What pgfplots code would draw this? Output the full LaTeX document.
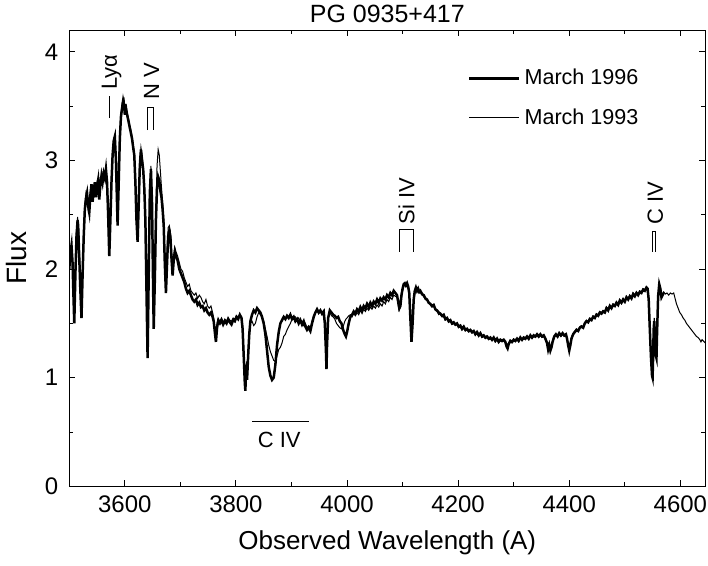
\documentclass[border=0pt]{standalone}
\usepackage{pgfplots}
\pgfplotsset{compat=1.18}
\usepackage{fontspec}
\setmainfont{Liberation Sans}
\begin{document}
\begin{tikzpicture}
\begin{axis}[
  width=318.5pt, height=228.5pt, scale only axis,
  xmin=3500, xmax=4645, ymin=0, ymax=4.2,
  xtick={3600,3800,...,4600}, minor x tick num=1,
  ytick={0,1,2,3,4}, minor y tick num=1,
  scaled x ticks=false,
  tick align=inside, major tick length=3pt, minor tick length=2pt,
  tick style={black, line width=0.5pt},
  axis line style={line width=0.5pt},
  xlabel={Observed Wavelength (A)}, ylabel={Flux},
  title={PG 0935+417},
  /pgf/number format/assume math mode=true,
  /pgf/number format/1000 sep={},
  tick label style={font=\fontsize{12}{14}\selectfont},
  xticklabel style={inner xsep=0.5pt, yshift=-1pt},
  yticklabel style={xshift=-2pt},
  label style={font=\fontsize{13}{15}\selectfont},
  ylabel style={font=\fontsize{14}{16}\selectfont, yshift=2pt},
  xlabel style={yshift=-2.5pt},
  title style={font=\fontsize{12.5}{14}\selectfont, inner ysep=2.5pt, yshift=-5pt},
  legend style={draw=none, fill=none, at={(rel axis cs:0.617,0.933)}, anchor=north west,
    font=\fontsize{10.8}{13}\selectfont, row sep=6.5pt},
  legend cell align=left,
  legend image code/.code={\draw[#1] (0pt,0pt) -- (25pt,0pt);},
]
% March 1996
\addplot[black, line width=1.25pt] coordinates {
(3500,2.00) (3502,2.15) (3504,2.22) (3506,2.05) (3507,1.85) (3509,1.50) (3511,1.95) (3513,2.30)
(3515,2.45) (3516,2.40) (3518,2.10) (3520,1.80) (3522,1.55) (3524,1.95) (3526,2.30) (3528,2.55)
(3530,2.65) (3532,2.70) (3534,2.58) (3536,2.52) (3538,2.68) (3540,2.78) (3542,2.62) (3544,2.72)
(3546,2.80) (3548,2.66) (3550,2.76) (3552,2.82) (3554,2.64) (3556,2.78) (3558,2.86) (3560,2.80)
(3562,2.88) (3564,2.84) (3566,2.92) (3568,2.80) (3570,2.50) (3572,2.12) (3574,2.45) (3576,2.80)
(3578,3.05) (3580,3.18) (3582,3.22) (3584,3.00) (3586,2.60) (3587,2.40) (3589,2.80) (3591,3.20)
(3593,3.40) (3595,3.48) (3597,3.55) (3599,3.50) (3600,3.42) (3601,3.52) (3603,3.45) (3605,3.40)
(3607,3.35) (3609,3.30) (3611,3.25) (3613,3.20) (3615,3.12) (3617,3.05) (3619,2.80) (3621,2.45)
(3623,2.25) (3625,2.60) (3627,2.95) (3629,3.10) (3631,3.00) (3633,2.92) (3635,2.75) (3637,2.45)
(3639,1.80) (3641,1.18) (3643,1.95) (3645,2.70) (3647,2.92) (3649,2.60) (3651,1.80) (3652,1.45)
(3654,1.90) (3656,2.45) (3658,2.75) (3660,2.85) (3662,2.82) (3664,2.72) (3666,2.66) (3668,2.55)
(3670,2.40) (3672,2.05) (3674,1.78) (3676,2.05) (3678,2.30) (3680,2.35) (3682,2.30) (3684,2.10)
(3686,1.94) (3688,2.08) (3690,2.16) (3692,2.12) (3695,2.08) (3698,2.00) (3701,1.96) (3704,1.92)
(3707,1.88) (3710,1.82) (3713,1.78) (3716,1.80) (3719,1.76) (3722,1.72) (3725,1.70) (3728,1.72)
(3731,1.67) (3734,1.69) (3737,1.65) (3740,1.66) (3743,1.62) (3746,1.64) (3749,1.60) (3752,1.58)
(3755,1.60) (3758,1.56) (3760,1.52) (3762,1.42) (3764,1.33) (3766,1.46) (3768,1.52) (3771,1.50)
(3774,1.53) (3777,1.49) (3780,1.52) (3783,1.50) (3786,1.54) (3789,1.51) (3792,1.49) (3795,1.53)
(3798,1.52) (3801,1.56) (3804,1.54) (3807,1.58) (3810,1.55) (3812,1.45) (3814,1.20) (3816,0.95)
(3817,0.88) (3818,1.05) (3819,1.12) (3820,0.98) (3822,1.20) (3824,1.40) (3826,1.52) (3829,1.58)
(3832,1.62) (3835,1.60) (3838,1.64) (3841,1.62) (3844,1.60) (3847,1.56) (3850,1.50) (3853,1.40)
(3856,1.25) (3859,1.10) (3862,1.02) (3865,0.98) (3868,1.00) (3871,1.12) (3874,1.30) (3877,1.42)
(3880,1.50) (3883,1.53) (3886,1.56) (3889,1.54) (3892,1.57) (3895,1.55) (3898,1.58) (3901,1.54)
(3904,1.56) (3907,1.52) (3910,1.54) (3913,1.50) (3916,1.53) (3919,1.49) (3922,1.52) (3925,1.47)
(3928,1.44) (3931,1.46) (3934,1.43) (3937,1.50) (3940,1.56) (3943,1.60) (3946,1.63) (3949,1.60)
(3952,1.62) (3955,1.59) (3958,1.61) (3960,1.50) (3962,1.25) (3963,1.08) (3964,1.30) (3966,1.55)
(3969,1.62) (3972,1.60) (3975,1.58) (3978,1.57) (3981,1.55) (3984,1.56) (3987,1.52) (3990,1.50)
(3993,1.44) (3996,1.40) (3998,1.38) (4000,1.42) (4003,1.50) (4006,1.56) (4009,1.58) (4012,1.61)
(4015,1.59) (4018,1.63) (4021,1.61) (4024,1.65) (4027,1.62) (4030,1.66) (4033,1.64) (4036,1.68)
(4039,1.65) (4042,1.69) (4045,1.66) (4048,1.70) (4051,1.68) (4054,1.72) (4057,1.69) (4060,1.73)
(4063,1.71) (4066,1.74) (4069,1.72) (4072,1.76) (4075,1.74) (4078,1.78) (4081,1.76) (4084,1.80)
(4087,1.78) (4090,1.76) (4092,1.70) (4094,1.64) (4096,1.66) (4098,1.76) (4100,1.82) (4102,1.86)
(4104,1.87) (4106,1.85) (4108,1.87) (4110,1.84) (4112,1.78) (4114,1.55) (4116,1.33) (4118,1.50)
(4120,1.72) (4122,1.80) (4124,1.83) (4126,1.80) (4128,1.82) (4130,1.79) (4132,1.80) (4135,1.77)
(4138,1.76) (4141,1.73) (4144,1.72) (4147,1.69) (4150,1.68) (4153,1.66) (4156,1.67) (4159,1.63)
(4162,1.62) (4165,1.60) (4168,1.59) (4171,1.57) (4174,1.58) (4177,1.54) (4180,1.55) (4183,1.52)
(4186,1.53) (4189,1.50) (4192,1.51) (4195,1.49) (4198,1.50) (4201,1.47) (4204,1.48) (4207,1.45)
(4210,1.47) (4213,1.44) (4216,1.45) (4219,1.43) (4222,1.44) (4225,1.42) (4228,1.43) (4231,1.40)
(4234,1.42) (4237,1.39) (4240,1.41) (4243,1.38) (4246,1.39) (4249,1.37) (4252,1.38) (4255,1.36)
(4258,1.37) (4261,1.35) (4264,1.37) (4267,1.34) (4270,1.36) (4273,1.33) (4276,1.35) (4279,1.34)
(4282,1.35) (4285,1.33) (4287,1.29) (4289,1.27) (4291,1.31) (4294,1.34) (4297,1.33) (4300,1.35)
(4303,1.34) (4306,1.36) (4309,1.34) (4312,1.37) (4315,1.35) (4318,1.37) (4321,1.36) (4324,1.38)
(4327,1.36) (4330,1.39) (4333,1.37) (4336,1.39) (4339,1.38) (4342,1.40) (4345,1.38) (4348,1.40)
(4351,1.38) (4354,1.39) (4357,1.36) (4360,1.32) (4362,1.26) (4364,1.30) (4366,1.25) (4368,1.28)
(4370,1.33) (4373,1.38) (4376,1.40) (4379,1.38) (4382,1.41) (4385,1.39) (4388,1.41) (4391,1.39)
(4394,1.40) (4396,1.36) (4398,1.30) (4400,1.25) (4402,1.30) (4404,1.36) (4407,1.40) (4410,1.42)
(4413,1.44) (4416,1.43) (4419,1.46) (4422,1.47) (4425,1.46) (4428,1.50) (4431,1.52) (4434,1.51)
(4437,1.54) (4440,1.53) (4443,1.56) (4446,1.55) (4449,1.58) (4452,1.57) (4455,1.60) (4458,1.59)
(4461,1.61) (4464,1.60) (4467,1.64) (4470,1.62) (4473,1.66) (4476,1.64) (4479,1.67) (4482,1.66)
(4485,1.69) (4488,1.67) (4491,1.71) (4494,1.69) (4497,1.72) (4500,1.70) (4503,1.74) (4506,1.72)
(4509,1.75) (4512,1.73) (4515,1.77) (4518,1.75) (4521,1.78) (4524,1.76) (4527,1.79) (4530,1.78)
(4533,1.81) (4536,1.80) (4539,1.83) (4541,1.82) (4543,1.72) (4545,1.45) (4547,1.20) (4549,1.02)
(4550,1.00) (4551,1.20) (4552,1.45) (4553,1.52) (4554,1.40) (4556,1.20) (4557,1.18) (4558,1.40)
(4560,1.75) (4562,1.86) (4564,1.82) (4566,1.74) (4568,1.76) (4570,1.78)
};
\addlegendentry{March 1996}
% March 1993
\addplot[black, line width=0.5pt] coordinates {
(3500,2.05) (3502,2.20) (3504,2.18) (3506,2.00) (3508,1.70) (3509,1.55) (3511,2.00) (3513,2.35)
(3515,2.48) (3517,2.35) (3519,2.05) (3521,1.75) (3522,1.60) (3524,2.00) (3526,2.35) (3528,2.58)
(3530,2.70) (3532,2.66) (3534,2.55) (3536,2.60) (3538,2.72) (3540,2.74) (3542,2.66) (3544,2.76)
(3546,2.78) (3548,2.70) (3550,2.80) (3552,2.78) (3554,2.70) (3556,2.82) (3558,2.84) (3560,2.86)
(3562,2.84) (3564,2.90) (3566,2.88) (3568,2.78) (3570,2.45) (3572,2.15) (3574,2.50) (3576,2.85)
(3578,3.08) (3580,3.20) (3582,3.18) (3584,2.95) (3586,2.55) (3587,2.42) (3589,2.85) (3591,3.25)
(3593,3.42) (3595,3.52) (3597,3.50) (3599,3.55) (3600,3.48) (3601,3.50) (3603,3.48) (3605,3.42)
(3607,3.38) (3609,3.32) (3611,3.28) (3613,3.22) (3615,3.15) (3617,3.08) (3619,2.85) (3621,2.50)
(3623,2.30) (3625,2.65) (3627,3.00) (3629,3.12) (3631,3.05) (3633,2.95) (3635,2.80) (3637,2.50)
(3639,1.85) (3641,1.25) (3643,2.00) (3645,2.75) (3647,2.95) (3649,2.65) (3651,1.85) (3652,1.50)
(3654,1.95) (3656,2.55) (3658,2.95) (3660,3.10) (3662,3.05) (3664,2.90) (3666,2.75) (3668,2.62)
(3670,2.48) (3672,2.10) (3674,1.85) (3676,2.15) (3678,2.38) (3680,2.40) (3682,2.35) (3684,2.18)
(3686,2.02) (3688,2.12) (3690,2.20) (3692,2.16) (3695,2.12) (3698,2.06) (3701,2.00) (3704,1.98)
(3707,1.92) (3710,1.88) (3713,1.84) (3716,1.86) (3719,1.80) (3722,1.78) (3725,1.76) (3728,1.78)
(3731,1.73) (3734,1.76) (3737,1.74) (3740,1.70) (3743,1.68) (3746,1.72) (3749,1.66) (3752,1.64)
(3755,1.66) (3758,1.60) (3760,1.55) (3762,1.45) (3764,1.38) (3766,1.50) (3768,1.55) (3771,1.52)
(3774,1.55) (3777,1.51) (3780,1.54) (3783,1.52) (3786,1.55) (3789,1.53) (3792,1.52) (3795,1.55)
(3798,1.54) (3801,1.57) (3804,1.56) (3807,1.58) (3810,1.56) (3812,1.48) (3814,1.25) (3816,1.00)
(3817,0.92) (3818,1.08) (3819,1.15) (3820,1.02) (3822,1.25) (3824,1.42) (3826,1.50) (3829,1.52)
(3832,1.48) (3835,1.50) (3838,1.56) (3841,1.60) (3844,1.58) (3847,1.56) (3850,1.52) (3853,1.45)
(3856,1.38) (3859,1.30) (3862,1.24) (3865,1.20) (3868,1.16) (3871,1.15) (3874,1.20) (3877,1.26)
(3880,1.28) (3883,1.32) (3886,1.38) (3889,1.40) (3892,1.44) (3895,1.47) (3898,1.50) (3901,1.54)
(3904,1.55) (3907,1.56) (3910,1.53) (3913,1.55) (3916,1.51) (3919,1.52) (3922,1.48) (3925,1.50)
(3928,1.46) (3931,1.48) (3934,1.46) (3937,1.52) (3940,1.57) (3943,1.60) (3946,1.62) (3949,1.59)
(3952,1.61) (3955,1.58) (3958,1.60) (3960,1.50) (3962,1.28) (3963,1.12) (3964,1.32) (3966,1.55)
(3969,1.60) (3972,1.57) (3975,1.56) (3978,1.54) (3981,1.50) (3984,1.48) (3987,1.46) (3990,1.45)
(3993,1.47) (3996,1.52) (3998,1.54) (4000,1.55) (4003,1.57) (4006,1.58) (4009,1.56) (4012,1.59)
(4015,1.57) (4018,1.60) (4021,1.58) (4024,1.62) (4027,1.59) (4030,1.63) (4033,1.61) (4036,1.64)
(4039,1.62) (4042,1.65) (4045,1.63) (4048,1.66) (4051,1.64) (4054,1.67) (4057,1.65) (4060,1.68)
(4063,1.66) (4066,1.70) (4069,1.68) (4072,1.72) (4075,1.70) (4078,1.74) (4081,1.72) (4084,1.76)
(4087,1.75) (4090,1.74) (4092,1.68) (4094,1.62) (4096,1.65) (4098,1.74) (4100,1.80) (4102,1.84)
(4104,1.86) (4106,1.84) (4108,1.86) (4110,1.83) (4112,1.76) (4114,1.55) (4116,1.36) (4118,1.52)
(4120,1.72) (4122,1.78) (4124,1.82) (4126,1.79) (4128,1.81) (4130,1.78) (4132,1.79) (4135,1.76)
(4138,1.75) (4141,1.72) (4144,1.71) (4147,1.70) (4150,1.67) (4153,1.65) (4156,1.66) (4159,1.62)
(4162,1.61) (4165,1.58) (4168,1.59) (4171,1.56) (4174,1.56) (4177,1.53) (4180,1.54) (4183,1.51)
(4186,1.52) (4189,1.49) (4192,1.50) (4195,1.48) (4198,1.49) (4201,1.46) (4204,1.47) (4207,1.44)
(4210,1.46) (4213,1.43) (4216,1.44) (4219,1.42) (4222,1.43) (4225,1.41) (4228,1.42) (4231,1.40)
(4234,1.41) (4237,1.38) (4240,1.40) (4243,1.37) (4246,1.38) (4249,1.36) (4252,1.37) (4255,1.35)
(4258,1.36) (4261,1.34) (4264,1.36) (4267,1.33) (4270,1.35) (4273,1.33) (4276,1.34) (4279,1.33)
(4282,1.34) (4285,1.32) (4287,1.30) (4289,1.28) (4291,1.31) (4294,1.33) (4297,1.32) (4300,1.34)
(4303,1.33) (4306,1.35) (4309,1.33) (4312,1.36) (4315,1.34) (4318,1.36) (4321,1.35) (4324,1.37)
(4327,1.35) (4330,1.38) (4333,1.36) (4336,1.38) (4339,1.37) (4342,1.39) (4345,1.37) (4348,1.39)
(4351,1.37) (4354,1.38) (4357,1.35) (4360,1.31) (4362,1.27) (4364,1.31) (4366,1.27) (4368,1.29)
(4370,1.34) (4373,1.37) (4376,1.39) (4379,1.37) (4382,1.40) (4385,1.38) (4388,1.40) (4391,1.38)
(4394,1.39) (4396,1.35) (4398,1.30) (4400,1.27) (4402,1.32) (4404,1.37) (4407,1.41) (4410,1.43)
(4413,1.45) (4416,1.44) (4419,1.47) (4422,1.48) (4425,1.47) (4428,1.51) (4431,1.53) (4434,1.52)
(4437,1.55) (4440,1.54) (4443,1.57) (4446,1.56) (4449,1.59) (4452,1.58) (4455,1.61) (4458,1.60)
(4461,1.62) (4464,1.61) (4467,1.65) (4470,1.63) (4473,1.67) (4476,1.65) (4479,1.68) (4482,1.67)
(4485,1.70) (4488,1.68) (4491,1.72) (4494,1.70) (4497,1.73) (4500,1.71) (4503,1.75) (4506,1.73)
(4509,1.76) (4512,1.74) (4515,1.78) (4518,1.76) (4521,1.79) (4524,1.77) (4527,1.80) (4530,1.79)
(4533,1.82) (4536,1.81) (4539,1.84) (4541,1.83) (4543,1.74) (4545,1.48) (4547,1.22) (4549,1.05)
(4550,1.03) (4551,1.22) (4552,1.46) (4553,1.55) (4554,1.42) (4556,1.22) (4557,1.20) (4558,1.42)
(4560,1.72) (4562,1.80) (4564,1.78) (4567,1.76) (4570,1.79) (4573,1.77) (4576,1.78) (4579,1.76)
(4582,1.78) (4585,1.77) (4588,1.78) (4590,1.74) (4593,1.68) (4596,1.64) (4599,1.60) (4602,1.58)
(4605,1.55) (4608,1.53) (4611,1.50) (4614,1.48) (4617,1.46) (4620,1.44) (4623,1.42) (4626,1.40)
(4629,1.38) (4632,1.37) (4635,1.35) (4637,1.33) (4639,1.35) (4641,1.34) (4643,1.33) (4645,1.32)
};
\addlegendentry{March 1993}
% line identifications
\draw[line width=0.5pt] (axis cs:3572,3.39) -- (axis cs:3572,3.59);
\node[rotate=90, anchor=west, inner sep=0pt, font=\fontsize{11}{13}\selectfont] at (axis cs:3576,3.65) {Lyα};
\draw[line width=0.5pt] (axis cs:3640,3.28) -- (axis cs:3640,3.49) -- (axis cs:3651,3.49) -- (axis cs:3651,3.28);
\node[rotate=90, anchor=west, inner sep=0pt, font=\fontsize{11}{13}\selectfont] at (axis cs:3648,3.56) {N V};
\draw[line width=0.5pt] (axis cs:4094,2.16) -- (axis cs:4094,2.36) -- (axis cs:4120,2.36) -- (axis cs:4120,2.16);
\node[rotate=90, anchor=west, inner sep=0pt, font=\fontsize{11}{13}\selectfont] at (axis cs:4107,2.41) {Si IV};
\draw[line width=0.5pt] (axis cs:4549,2.16) -- (axis cs:4549,2.35) -- (axis cs:4556,2.35) -- (axis cs:4556,2.16);
\node[rotate=90, anchor=west, inner sep=0pt, font=\fontsize{11}{13}\selectfont] at (axis cs:4555,2.41) {C IV};
\draw[line width=0.5pt] (axis cs:3829,0.60) -- (axis cs:3931,0.60);
\node[font=\fontsize{11}{13}\selectfont] at (axis cs:3878,0.43) {C IV};
\end{axis}
\path ([yshift=-2pt]current axis.outer south);
\end{tikzpicture}
\end{document}
